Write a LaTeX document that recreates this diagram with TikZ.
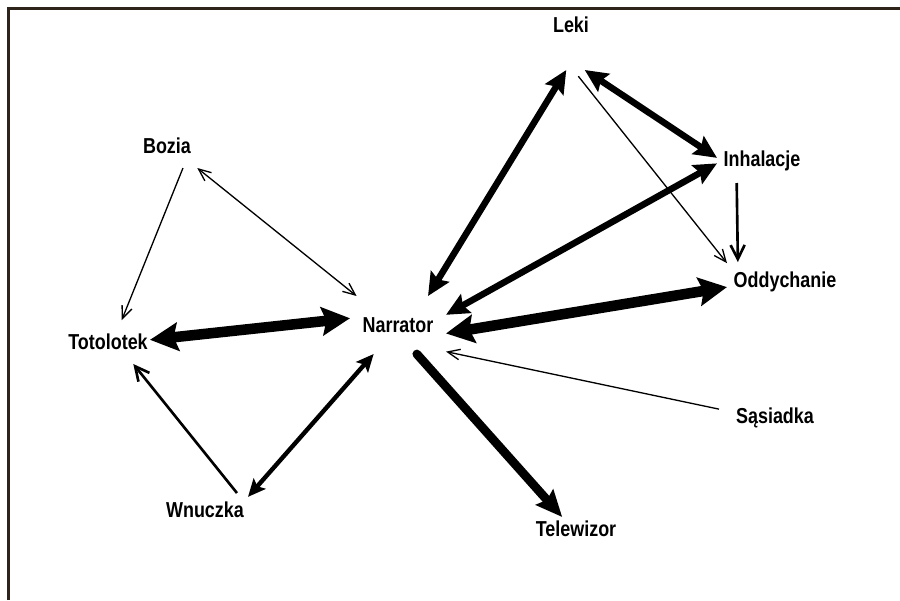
\documentclass[tikz,border=0pt]{standalone}
\usepackage{fontspec}
\setmainfont{Liberation Sans}
\newfontfamily\labelfont{Liberation Sans}[FakeStretch=0.83]
\usepackage{tikz}
\usetikzlibrary{arrows.meta}
\usepackage{xcolor}
\definecolor{framebrown}{HTML}{2E241A}

\begin{document}
\begin{tikzpicture}[x=0.02cm, y=-0.02cm,
    font=\labelfont\fontsize{12.3}{14}\selectfont\bfseries,
    actor/.style={inner sep=0pt, outer sep=0pt},
    weak/.style={line width=0.75pt, >={Straight Barb[length=7pt, width=6pt]}},
    mild/.style={line width=1.5pt, >={Straight Barb[length=8pt, width=8pt]}},
    medium/.style={line width=2.5pt, >={Stealth[length=10pt, width=9pt, inset=2pt]}},
    firm/.style={line width=3.7pt, >={Stealth[length=13pt, width=12pt, inset=2pt]}},
    strong/.style={line width=5pt, line cap=round, >={Stealth[length=15pt, width=13pt, inset=2pt]}},
    heavy/.style={line width=6pt, >={Stealth[length=16pt, width=16pt, inset=2.5pt]}}
]
\useasboundingbox (0,0) rectangle (900,600);
\draw[framebrown, line width=1.7pt] (8.5,600) -- (8.5,8.5) -- (900,8.5);

\node[actor, minimum width=1.92cm, minimum height=1.16cm] (narr) at (398,325) {Narrator};
\node[actor, minimum width=0.8cm, minimum height=1.8cm] (leki) at (571,25) {Leki};
\node[actor, minimum width=1.8cm, minimum height=0.88cm] (inh) at (762,161) {Inhalacje};
\node[actor, minimum width=2.32cm, minimum height=0.8cm] (odd) at (785,282) {Oddychanie};
\node[actor, minimum width=2.24cm, minimum height=0.6cm] (sas) at (775,418) {Sąsiadka};
\node[actor, minimum width=1.8cm, minimum height=0.48cm] (tele) at (576,529) {Telewizor};
\node[actor, minimum width=1.72cm, minimum height=0.68cm] (wnu) at (205,510) {Wnuczka};
\node[actor, minimum width=1.68cm, minimum height=0.88cm] (toto) at (108,342) {Totolotek};
\node[actor, minimum width=1.24cm, minimum height=0.88cm] (bozia) at (167,146) {Bozia};

\draw[weak, ->] (bozia.-54) -- (toto.58);
\draw[weak, <->] (bozia.-36) -- (narr.145);
\draw[heavy, <->] (toto.3) -- (narr.172);
\draw[mild, ->] (wnu.28) -- (toto.-41);
\draw[medium, <->] (wnu.17) -- (narr.230);
\draw[strong, ->] (narr.-57) -- (tele.139);
\draw[weak, ->] (sas.171) -- (narr.-29);
\draw[heavy, <->] (narr.-10) -- (odd.185);
\draw[firm, <->] (narr.12) -- (inh.183);
\draw[firm, <->] (narr.44) -- (leki.-96);
\draw[firm, <->] (leki.-73) -- (inh.176);
\draw[weak, ->, shorten <=4.5pt] (leki.-87) -- (odd.162);
\draw[mild, ->] (inh.-139) -- (odd.157);
\end{tikzpicture}
\end{document}
